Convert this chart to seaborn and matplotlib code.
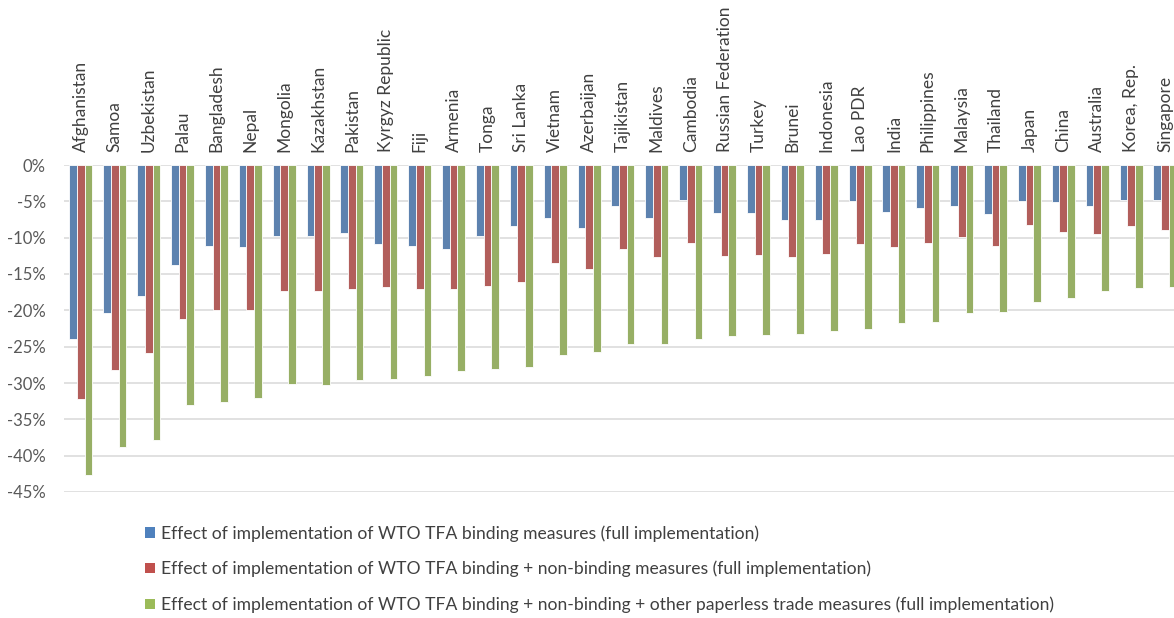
import matplotlib
matplotlib.use("Agg")
import matplotlib.pyplot as plt
from matplotlib.patches import Patch
import seaborn as sns
import pandas as pd

countries = [
    "Afghanistan", "Samoa", "Uzbekistan", "Palau", "Bangladesh", "Nepal",
    "Mongolia", "Kazakhstan", "Pakistan", "Kyrgyz Republic", "Fiji", "Armenia",
    "Tonga", "Sri Lanka", "Vietnam", "Azerbaijan", "Tajikistan", "Maldives",
    "Cambodia", "Russian Federation", "Turkey", "Brunei", "Indonesia", "Lao PDR",
    "India", "Philippines", "Malaysia", "Thailand", "Japan", "China",
    "Australia", "Korea, Rep.", "Singapore",
]

binding = [
    -23.9, -20.3, -18.0, -13.7, -11.1, -11.3, -9.8, -9.8, -9.3, -10.9, -11.1,
    -11.5, -9.8, -8.4, -7.3, -8.7, -5.6, -7.3, -4.8, -6.6, -6.6, -7.5, -7.5,
    -4.9, -6.5, -5.9, -5.6, -6.8, -5.0, -5.1, -5.6, -4.8, -4.8,
]
binding_nonbinding = [
    -32.2, -28.2, -25.9, -21.2, -20.0, -19.9, -17.4, -17.3, -17.1, -16.8,
    -17.1, -17.1, -16.7, -16.1, -13.5, -14.3, -11.6, -12.7, -10.8, -12.5,
    -12.4, -12.7, -12.3, -10.9, -11.3, -10.7, -9.9, -11.1, -8.3, -9.2, -9.5,
    -8.4, -9.0,
]
binding_nonbinding_paperless = [
    -42.7, -38.8, -37.8, -33.0, -32.6, -32.0, -30.2, -30.3, -29.6, -29.4,
    -29.1, -28.4, -28.1, -27.8, -26.2, -25.7, -24.7, -24.6, -23.9, -23.6,
    -23.4, -23.3, -22.9, -22.5, -21.8, -21.6, -20.4, -20.2, -18.8, -18.3,
    -17.4, -16.9, -16.8,
]

series_labels = [
    "Effect of implementation of WTO TFA binding measures (full implementation)",
    "Effect of implementation of WTO TFA binding + non-binding measures (full implementation)",
    "Effect of implementation of WTO TFA binding + non-binding + other paperless trade measures (full implementation)",
]
series_colors = ["#4F81BD", "#C0504D", "#9BBB59"]

y_ticks = [0, -5, -10, -15, -20, -25, -30, -35, -40, -45]
y_tick_labels = [f"{v}%" for v in y_ticks]

df = pd.DataFrame({
    "country": countries * 3,
    "value": binding + binding_nonbinding + binding_nonbinding_paperless,
    "series": [series_labels[0]] * len(countries)
              + [series_labels[1]] * len(countries)
              + [series_labels[2]] * len(countries),
})

sns.set_theme(style="white")
plt.rcParams["font.family"] = ["Lato", "DejaVu Sans"]

W, H = 1174, 618
fig = plt.figure(figsize=(W / 100, H / 100), dpi=100)

slot = 33.875
left_px, top_px, bottom_px = 64, 165, 492
ax = fig.add_axes([left_px / W, 1 - bottom_px / H,
                   len(countries) * slot / W, (bottom_px - top_px) / H])

sns.barplot(
    data=df, x="country", y="value", hue="series",
    hue_order=series_labels, order=countries,
    palette=series_colors, width=0.68, dodge=True,
    edgecolor="white", linewidth=0.6, legend=False, ax=ax,
)

ax.set_xlim(-0.5, len(countries) - 0.5)
ax.set_ylim(-45, 0)
ax.set_yticks(y_ticks)
ax.set_yticklabels(y_tick_labels, fontsize=12, color="#595959")
ax.yaxis.grid(True, color="#D9D9D9", linewidth=1.1)
ax.set_axisbelow(True)
for s in ax.spines.values():
    s.set_visible(False)

ax.xaxis.tick_top()
ax.set_xticks(range(len(countries)))
ax.set_xticklabels(countries, rotation=90, fontsize=12.5, color="#404040")
ax.tick_params(axis="x", length=0, pad=9)
ax.tick_params(axis="y", length=0, pad=13)
ax.set_xlabel("")
ax.set_ylabel("")

handles = [Patch(facecolor=c, edgecolor="none") for c in series_colors]
fig.legend(
    handles, series_labels,
    loc="upper left", bbox_to_anchor=(145 / W, 1 - 525 / H),
    frameon=False, labelcolor="#404040",
    handlelength=0.55, handleheight=0.55, handletextpad=0.35,
    labelspacing=1.1, borderaxespad=0, borderpad=0,
    prop={"family": ["Liberation Sans Narrow", "Lato", "DejaVu Sans"], "size": 12.6},
)

fig.savefig("out.png", dpi=100, facecolor="white")
